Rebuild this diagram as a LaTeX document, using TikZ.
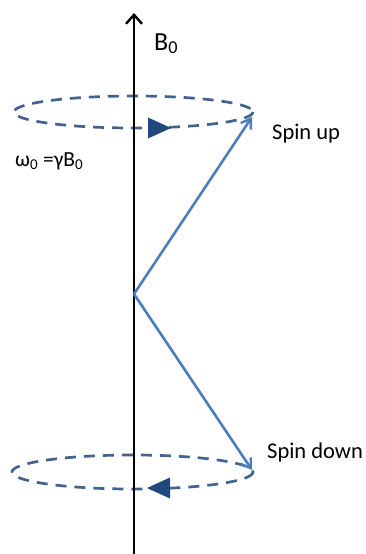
\documentclass[tikz,border=0pt]{standalone}
\usepackage{fontspec}
\setmainfont{Carlito}
\usetikzlibrary{arrows.meta}
\definecolor{ringcol}{HTML}{41638E}
\definecolor{tricol}{HTML}{1F497D}
\definecolor{spincol}{HTML}{4A7EBB}
\begin{document}
\begin{tikzpicture}[x=1pt,y=-1pt,
  ring/.style={draw=ringcol,line width=2.7pt,dash pattern=on 11pt off 8pt},
  tri/.style={fill=tricol,draw=none},
  spinvec/.style={draw=spincol,line width=2.6pt,-{Straight Barb[length=9pt,width=12pt,line width=2.4pt]}},
  axisline/.style={draw=black,line width=2.8pt,-{Straight Barb[length=9pt,width=16pt,line width=2.4pt]}},
  lbl/.style={inner sep=0pt,font=\fontsize{22.5}{26}\selectfont}]
\useasboundingbox (0,0) rectangle (365,554);
% rings
\draw[ring] (133.5,112) ellipse [x radius=119.5, y radius=16];
\draw[ring] (132.5,472) ellipse [x radius=120.5, y radius=17];
% axis
\coordinate (axbot) at (134,555);
\coordinate (axtop) at (134,13);
\draw[axisline] (axbot) -- (axtop);
% rotation arrows
\fill[tri] (148,117.5) -- (171,128) -- (148,138.5) -- cycle;
\fill[tri] (170,477.5) -- (147,488) -- (170,498.5) -- cycle;
% spin vectors
\coordinate (O) at (134,294);
\coordinate (up) at (252,117);
\coordinate (down) at (252,470);
\draw[spinvec] (O) -- (up);
\draw[spinvec] (O) -- (down);
% labels
\node[lbl,anchor=base west,font=\fontsize{26}{30}\selectfont] (b0) at (154,50) {B\textsubscript{0}};
\node[lbl,anchor=base west] (su) at (272,139) {Spin up};
\node[lbl,anchor=base west] (sd) at (267,458) {Spin down};
\node[lbl,anchor=base west,font=\fontsize{21.5}{25}\selectfont] (w0) at (15,166) {ω\textsubscript{0} =γB\textsubscript{0}};
\end{tikzpicture}
\end{document}
